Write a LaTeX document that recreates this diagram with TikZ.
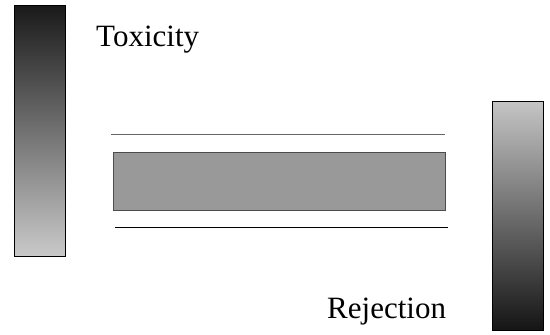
\documentclass[tikz,border=0pt]{standalone}
\usepackage{fontspec}
\setmainfont{Liberation Serif}
\usetikzlibrary{positioning}

\begin{document}
\begin{tikzpicture}[
  x=1pt, y=-1pt,
  bar/.style={draw=black, line width=1.2pt, minimum width=51pt, minimum height=#1, inner sep=0pt},
  label/.style={font=\fontsize{31}{36}\selectfont, inner sep=0pt},
  lane/.style={line width=1pt},
]
  \useasboundingbox (0,0) rectangle (550,335);

  % gradient bars at the two sides
  \node[bar=251pt, top color=black!90, bottom color=black!21, anchor=north west] (tox) at (14,5) {};
  \node[bar=229pt, top color=black!23, bottom color=black!92, anchor=north west] (rej) at (492,101) {};

  \node[label, anchor=base west] (toxtext) at (96,46) {Toxicity};
  \node[label, anchor=base west] (rejtext) at (327,318) {Rejection};

  % the channel in the middle
  \node[draw=black!70, fill=black!40, line width=0.8pt, minimum width=332pt, minimum height=58pt,
        inner sep=0pt, anchor=north west] (core) at (113,152) {};
  \draw[lane, black!60] (111,134) -- (445,134);
  \draw[lane, black] (115,227) -- (448,227);
\end{tikzpicture}
\end{document}
